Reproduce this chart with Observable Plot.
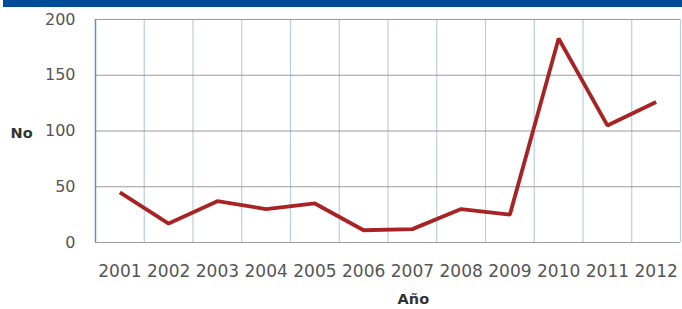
<!DOCTYPE html>
<html><head><meta charset="utf-8">
<script src="https://cdn.jsdelivr.net/npm/d3@7"></script>
<script src="https://cdn.jsdelivr.net/npm/@observablehq/plot@0.6"></script>
<style>
body{margin:0;background:#fff;}
#wrap{position:relative;width:682px;height:309px;}
#bar{position:absolute;left:3px;right:0;top:0;height:7px;background:#004c99;}
</style></head><body>
<div id="wrap"><div id="chart"></div><div id="bar"></div></div>
<script>
const years = [2001,2002,2003,2004,2005,2006,2007,2008,2009,2010,2011,2012];
const values = [45,17,37,30,35,11,12,30,25,183,105,126];
const yTicks = [0,50,100,150,200];
const data = years.map((y,i)=>({year:y, value:values[i]}));
const bounds = d3.range(years.length+1).map(i => years[0]-0.5+i);

const chart = Plot.plot({
  width: 682, height: 309,
  marginLeft: 95, marginRight: 2, marginTop: 19, marginBottom: 67,
  style:{fontFamily:"DejaVu Sans, sans-serif", fontSize:"16px", color:"#555", background:"#fff"},
  x:{domain:[years[0]-0.5, years[years.length-1]+0.5], label:null},
  y:{domain:[0,200], label:null},
  marks:[
    Plot.ruleX(bounds.slice(1,-1), {stroke:"#b9cde5", strokeWidth:1.2}),
    Plot.ruleY(yTicks, {stroke:"#9a9a9a", strokeWidth:1.2}),
    Plot.ruleX([bounds[0]], {stroke:"#5b8fd0", strokeWidth:1.5}),
    Plot.ruleX([bounds[bounds.length-1]], {stroke:"#b9cde5", strokeWidth:1.2}),
    Plot.axisY({ticks:yTicks, tickSize:0, tickPadding:20, fontSize:16, label:null}),
    Plot.axisX({ticks:years, tickFormat:d=>String(d), tickSize:0, tickPadding:22, fontSize:17, label:null}),
    Plot.line(data, {x:"year", y:"value", stroke:"#a82424", strokeWidth:3.8, strokeLinejoin:"miter", strokeLinecap:"butt"}),
    Plot.text(["No"], {frameAnchor:"left", dx:-85, y:()=>98, text:d=>d, fontWeight:"bold", fontSize:14.5, fill:"#333", textAnchor:"start"}),
    Plot.text(["Año"], {frameAnchor:"bottom", x:()=>2007.02, dy:61, text:d=>d, fontWeight:"bold", fontSize:14.5, fill:"#333"})
  ]
});
document.getElementById("chart").appendChild(chart);
</script>
</body></html>
